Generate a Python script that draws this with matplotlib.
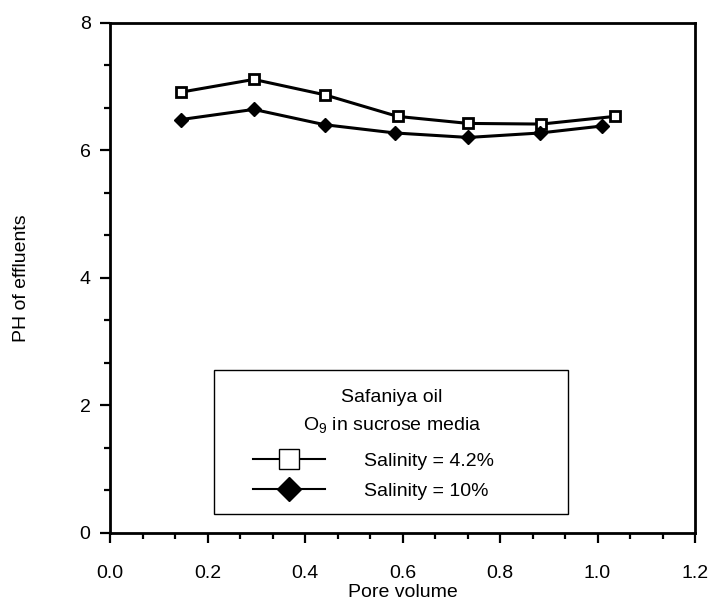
import matplotlib
matplotlib.use("Agg")
import matplotlib.pyplot as plt
from matplotlib.lines import Line2D
from matplotlib.patches import Rectangle
from matplotlib.ticker import MultipleLocator

plt.rcParams['font.family'] = ['Liberation Sans', 'DejaVu Sans']
plt.rcParams['mathtext.fontset'] = 'custom'
plt.rcParams['mathtext.rm'] = 'Liberation Sans'
plt.rcParams['mathtext.it'] = 'Liberation Sans'

# Data
pore_volume_42 = [0.145, 0.295, 0.44, 0.59, 0.735, 0.885, 1.035]
ph_42 = [6.91, 7.11, 6.87, 6.53, 6.42, 6.41, 6.53]
pore_volume_10 = [0.145, 0.295, 0.44, 0.585, 0.735, 0.882, 1.01]
ph_10 = [6.48, 6.64, 6.40, 6.27, 6.20, 6.27, 6.38]

x_ticks = [0.0, 0.2, 0.4, 0.6, 0.8, 1.0, 1.2]
x_labels = ["0.0", "0.2", "0.4", "0.6", "0.8", "1.0", "1.2"]
y_ticks = [0, 2, 4, 6, 8]
y_labels = ["0", "2", "4", "6", "8"]

fig = plt.figure(figsize=(7.17, 6.02), dpi=100)
ax = fig.add_axes([110/717, 1 - 532.7/602, 585/717, 510/602])

ax.plot(pore_volume_42, ph_42, color='black', lw=2.2, marker='s', ms=7,
        mfc='white', mec='black', mew=2.0, zorder=3)
ax.plot(pore_volume_10, ph_10, color='black', lw=2.2, marker='D', ms=7,
        mfc='black', mec='black', zorder=3)

ax.set_xlim(0, 1.2)
ax.set_ylim(0, 8)
ax.set_xticks(x_ticks)
ax.set_xticklabels(x_labels)
ax.set_yticks(y_ticks)
ax.set_yticklabels(y_labels)
ax.xaxis.set_minor_locator(MultipleLocator(0.2/3))
ax.yaxis.set_minor_locator(MultipleLocator(2/3))
ax.tick_params(axis='both', which='major', direction='out', length=7, width=1.6,
               labelsize=14, colors='black')
ax.tick_params(axis='x', which='major', pad=16)
ax.tick_params(axis='y', which='major', pad=7)
ax.tick_params(axis='both', which='minor', direction='out', length=4, width=1.6)
ax.tick_params(top=False, right=False, which='both')
for s in ax.spines.values():
    s.set_linewidth(2.0)
    s.set_color('black')

ax.set_xlabel("Pore volume", fontsize=14, labelpad=2)
ax.set_ylabel("PH of effluents", fontsize=14, labelpad=36)

# Legend box
box = Rectangle((0.178, 0.0367), 0.605, 0.282, transform=ax.transAxes,
                facecolor='white', edgecolor='black', lw=1.0, zorder=4)
ax.add_patch(box)
ax.text(0.482, 0.266, "Safaniya oil", transform=ax.transAxes, ha='center',
        va='center', fontsize=14, zorder=5)
ax.text(0.482, 0.211, "O$_9$ in sucrose media", transform=ax.transAxes,
        ha='center', va='center', fontsize=14, zorder=5)

h1 = Line2D([], [], color='black', lw=1.5, marker='s', ms=14, mfc='white',
            mec='black', mew=1.0)
h2 = Line2D([], [], color='black', lw=1.5, marker='D', ms=12, mfc='black',
            mec='black')
leg = ax.legend([h1, h2], ["Salinity = 4.2%", "Salinity = 10%"],
                loc='upper left', bbox_to_anchor=(0.244, 0.157),
                frameon=False, fontsize=14, handlelength=3.7,
                handletextpad=2.0, labelspacing=0.6, borderaxespad=0,
                borderpad=0)
leg.set_zorder(6)

fig.savefig("out.png", dpi=100)
